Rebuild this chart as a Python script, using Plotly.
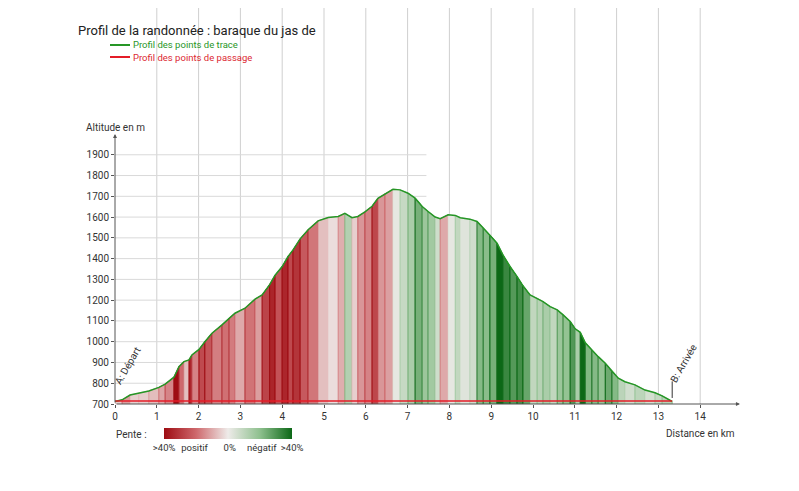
import plotly.graph_objects as go
from plotly.colors import sample_colorscale

# profil de la trace (distance en km, altitude en m)
distance_km = [0.00, 0.17, 0.36, 0.57, 0.81, 1.05, 1.20, 1.41, 1.53, 1.65,
               1.77, 1.84, 2.01, 2.15, 2.32, 2.56, 2.73, 2.87, 3.11, 3.35,
               3.52, 3.70, 3.83, 4.00, 4.14, 4.26, 4.43, 4.62, 4.86, 5.10,
               5.34, 5.50, 5.67, 5.81, 5.98, 6.15, 6.29, 6.46, 6.65, 6.82,
               7.01, 7.18, 7.35, 7.49, 7.66, 7.78, 7.97, 8.14, 8.26, 8.49,
               8.66, 8.81, 8.97, 9.14, 9.28, 9.45, 9.62, 9.76, 9.93, 10.10,
               10.24, 10.41, 10.58, 10.72, 10.89, 11.01, 11.13, 11.25, 11.41, 11.56,
               11.73, 11.89, 12.04, 12.20, 12.44, 12.68, 12.92, 13.09, 13.33]
altitude_m = [712, 720, 743, 752, 763, 780, 796, 829, 880, 904,
              912, 936, 963, 1000, 1041, 1081, 1113, 1137, 1161, 1205,
              1225, 1275, 1320, 1362, 1410, 1442, 1495, 1539, 1582, 1598,
              1603, 1618, 1597, 1603, 1625, 1652, 1690, 1712, 1734, 1731,
              1715, 1691, 1651, 1627, 1600, 1592, 1611, 1608, 1597, 1590,
              1579, 1547, 1514, 1474, 1418, 1362, 1313, 1269, 1225, 1209,
              1193, 1169, 1153, 1129, 1097, 1062, 1045, 995, 960, 928,
              896, 856, 824, 807, 792, 767, 754, 739, 712]

# points de passage
passage_km = [0.0, 13.33]
passage_alt = [714, 714]
passage_noms = ["A: Départ", "B: Arrivée"]

x_ticks = list(range(0, 15))
y_ticks = list(range(700, 2000, 100))
pente_ticks = [-40, -21, 1, 21, 40]
pente_labels = [">40%", "positif", "0%", "négatif", ">40%"]

echelle = [[0.0, "rgb(158,12,18)"], [0.25, "rgb(206,104,108)"], [0.5, "rgb(238,235,233)"],
           [0.75, "rgb(142,192,142)"], [1.0, "rgb(12,104,22)"]]

# pente de chaque segment en % (descente positive, comme l'echelle)
pentes = []
milieux_km = []
milieux_alt = []
for i in range(len(distance_km) - 1):
    dx = (distance_km[i + 1] - distance_km[i]) * 1000
    pentes.append(-(altitude_m[i + 1] - altitude_m[i]) / dx * 100)
    milieux_km.append((distance_km[i] + distance_km[i + 1]) / 2)
    milieux_alt.append((altitude_m[i] + altitude_m[i + 1]) / 2)

# la page ajoute une marge de 8 px autour de la figure
OFF = 8
# zone du graphe en pixels de la figure
L, T, W, H = 107, 126, 627, 270


def px(x):
    # x en pixels de la page -> coordonnee paper
    return (x - OFF - L) / W


def py(y):
    return (T + H - (y - OFF)) / H


fig = go.Figure()

# bandes colorees sous le profil
base = y_ticks[0]
for i, p in enumerate(pentes):
    pos = (min(max(p, -40), 40) + 40) / 80
    c = sample_colorscale(echelle, [pos])[0]
    pos_trait = min(max(0.5 + (pos - 0.5) * 1.7, 0), 1)
    c_trait = sample_colorscale(echelle, [pos_trait])[0]
    fig.add_trace(go.Scatter(
        x=[distance_km[i], distance_km[i], distance_km[i + 1], distance_km[i + 1]],
        y=[base, altitude_m[i], altitude_m[i + 1], base],
        fill="toself", fillcolor=c, mode="lines", line=dict(color=c_trait, width=1),
        showlegend=False, hoverinfo="skip"))

# echelle des pentes
fig.add_trace(go.Scatter(
    x=milieux_km, y=milieux_alt, mode="markers", name="Pente",
    marker=dict(color=pentes, colorscale=echelle, cmin=-40, cmax=40, opacity=0, size=4,
                showscale=True,
                colorbar=dict(orientation="h", xref="container", yref="container",
                              x=(165 - OFF + 42) / 799, xanchor="left",
                              y=1 - (428 - OFF) / 491, yanchor="top",
                              lenmode="pixels", len=128, thickness=11, xpad=0, ypad=0,
                              outlinewidth=0, ticks="", tickvals=pente_ticks,
                              ticktext=pente_labels, tickfont=dict(size=9.5, color="#333"))),
    showlegend=False, hoverinfo="skip"))

fig.add_trace(go.Scatter(x=distance_km, y=altitude_m, mode="lines", name="Profil des points de trace",
                         line=dict(color="rgb(38,150,38)", width=1.5)))
fig.add_trace(go.Scatter(x=passage_km, y=passage_alt, mode="lines", name="Profil des points de passage",
                         line=dict(color="rgb(228,28,40)", width=1.5)))

shapes = []
# grille verticale jusqu'en haut de la page
for k in x_ticks[1:]:
    shapes.append(dict(type="line", xref="x", yref="paper", x0=k, x1=k, y0=0, y1=py(0),
                       line=dict(color="#cfcfcf", width=1), layer="below"))
# grille horizontale jusqu'a 7.45 km
for v in y_ticks[1:]:
    shapes.append(dict(type="line", xref="x", yref="y", x0=0, x1=7.45, y0=v, y1=v,
                       line=dict(color="#d9d9d9", width=1), layer="below"))
# trait de l'arrivee
shapes.append(dict(type="line", xref="x", yref="y", x0=passage_km[1], x1=passage_km[1],
                   y0=passage_alt[1] + 15, y1=passage_alt[1] + 95, line=dict(color="#333", width=1)))
# legende
shapes.append(dict(type="line", xref="paper", yref="paper", x0=px(110), x1=px(130), y0=py(45), y1=py(45),
                   line=dict(color="rgb(38,150,38)", width=2)))
shapes.append(dict(type="line", xref="paper", yref="paper", x0=px(110), x1=px(130), y0=py(57), y1=py(57),
                   line=dict(color="rgb(228,28,40)", width=2)))

annotations = [
    # fleches des axes
    dict(x=14.95, y=700, ax=0, ay=700, xref="x", yref="y", axref="x", ayref="y", text="",
         showarrow=True, arrowhead=2, arrowsize=0.8, arrowwidth=1, arrowcolor="#555"),
    dict(x=0, y=2000, ax=0, ay=700, xref="x", yref="y", axref="x", ayref="y", text="",
         showarrow=True, arrowhead=2, arrowsize=0.8, arrowwidth=1, arrowcolor="#555"),
    dict(x=px(84), y=py(127), xref="paper", yref="paper", text="Altitude en m", showarrow=False,
         xanchor="left", yanchor="middle", font=dict(size=10, color="#333")),
    dict(x=px(737), y=py(433), xref="paper", yref="paper", text="Distance en km", showarrow=False,
         xanchor="right", yanchor="middle", font=dict(size=10, color="#333")),
    dict(x=px(114), y=py(435), xref="paper", yref="paper", text="Pente :", showarrow=False,
         xanchor="left", yanchor="middle", font=dict(size=10, color="#333")),
    dict(x=px(131), y=py(45), xref="paper", yref="paper", text="Profil des points de trace",
         showarrow=False, xanchor="left", yanchor="middle", font=dict(size=9.5, color="rgb(40,150,40)")),
    dict(x=px(131), y=py(57), xref="paper", yref="paper", text="Profil des points de passage",
         showarrow=False, xanchor="left", yanchor="middle", font=dict(size=9.5, color="rgb(220,40,50)")),
    dict(x=passage_km[0], y=passage_alt[0], xref="x", yref="y", text=passage_noms[0], showarrow=False,
         textangle=-60, xshift=12, yshift=35, font=dict(size=10, color="#333")),
    dict(x=passage_km[1], y=passage_alt[1], xref="x", yref="y", text=passage_noms[1], showarrow=False,
         textangle=-60, xshift=11, yshift=38, font=dict(size=10, color="#333")),
]

fig.update_layout(
    width=799, height=491,
    margin=dict(l=L, r=799 - L - W, t=T, b=491 - T - H, autoexpand=False),
    paper_bgcolor="white", plot_bgcolor="white",
    font=dict(family="Roboto", color="#333"),
    showlegend=False,
    title=dict(text="Profil de la randonnée : baraque du jas de", xref="container", yref="container",
               x=(78 - OFF) / 799, xanchor="left", y=1 - (30 - OFF) / 491, yanchor="middle",
               font=dict(size=13, color="#222")),
    shapes=shapes, annotations=annotations,
)
fig.update_xaxes(range=[0, 15], tickvals=x_ticks, showgrid=False, zeroline=False, showline=False,
                 ticks="outside", ticklen=3, tickcolor="#555", tickfont=dict(size=10, color="#333"))
fig.update_yaxes(range=[700, 2000], tickvals=y_ticks, showgrid=False, zeroline=False, showline=False,
                 ticks="outside", ticklen=3, tickcolor="#555", tickfont=dict(size=10, color="#333"))

fig.write_html("out.html")
